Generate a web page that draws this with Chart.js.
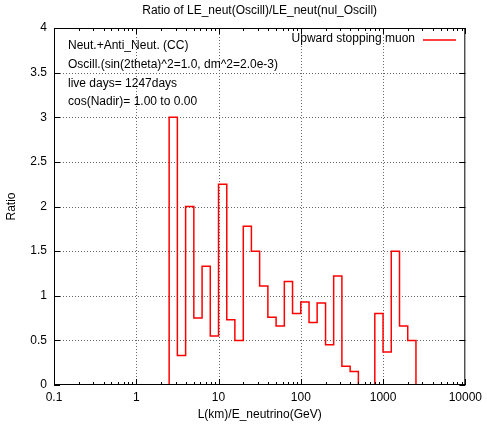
<!DOCTYPE html>
<html>
<head>
<meta charset="utf-8">
<title>Ratio of LE_neut(Oscill)/LE_neut(nul_Oscill)</title>
<script src="https://cdn.jsdelivr.net/npm/chart.js@4.4.0/dist/chart.umd.min.js"></script>
<style>
    html, body { margin: 0; padding: 0; background: #fff; }
    #wrap { width: 487px; height: 427px; }
</style>
</head>
<body>
<div id="wrap"><canvas id="ratioChart" width="487" height="427"></canvas></div>
<script>
// bin edges in L/E (km/GeV), 0.1 decade wide
const binEdges = [2.51, 3.16, 3.98, 5.01, 6.31, 7.94, 10, 12.6, 15.8, 20.0, 25.1,
    31.6, 39.8, 50.1, 63.1, 79.4, 100, 126, 158, 200, 251,
    316, 398, 501, 631, 794, 1000, 1259, 1585, 1995, 2512];

// ratio per bin
const ratioValues = [3.0, 0.33, 2.0, 0.75, 1.33, 0.55, 2.25, 0.73, 0.5, 1.78,
    1.5, 1.11, 0.76, 0.66, 1.16, 0.8, 0.93, 0.7, 0.92, 0.45,
    1.22, 0.21, 0.15, 0, 0, 0.8, 0.37, 1.5, 0.66, 0.5];

const xMajorTicks = [0.1, 1, 10, 100, 1000, 10000];
const yTicks = [0, 0.5, 1, 1.5, 2, 2.5, 3, 3.5, 4];

const titleText = 'Ratio of LE_neut(Oscill)/LE_neut(nul_Oscill)';
const xTitle = 'L(km)/E_neutrino(GeV)';
const yTitle = 'Ratio';
const seriesName = 'Upward stopping muon';
const infoLines = [
    'Neut.+Anti_Neut. (CC)',
    'Oscill.(sin(2theta)^2=1.0, dm^2=2.0e-3)',
    'live days= 1247days',
    'cos(Nadir)= 1.00 to 0.00'
];

const FAMILY = '"Liberation Sans", Arial, sans-serif';
const FONT = '12px ' + FAMILY;

// step outline: start at 0, one point per bin, drop back to 0 at the end
const stepPoints = [{ x: binEdges[0], y: 0 }];
ratioValues.forEach((v, i) => stepPoints.push({ x: binEdges[i], y: v }));
stepPoints.push({ x: binEdges[binEdges.length - 1], y: ratioValues[ratioValues.length - 1] });
stepPoints.push({ x: binEdges[binEdges.length - 1], y: 0 });

// gnuplot-like frame, dotted grid, inward ticks and text
const gnuplotLook = {
    id: 'gnuplotLook',
    beforeDatasetsDraw(chart) {
        const { ctx, chartArea: a, scales: { x, y } } = chart;
        ctx.save();
        ctx.strokeStyle = '#666';
        ctx.lineWidth = 1;
        ctx.setLineDash([1, 2]);
        xMajorTicks.slice(1, -1).forEach(v => {
            const px = Math.round(x.getPixelForValue(v)) + 0.5;
            ctx.beginPath(); ctx.moveTo(px, a.top); ctx.lineTo(px, a.bottom); ctx.stroke();
        });
        yTicks.slice(1, -1).forEach(v => {
            const py = Math.round(y.getPixelForValue(v)) + 0.5;
            ctx.beginPath(); ctx.moveTo(a.left, py); ctx.lineTo(a.right, py); ctx.stroke();
        });
        ctx.restore();
    },
    afterDatasetsDraw(chart) {
        const { ctx, chartArea: a, scales: { x, y } } = chart;
        ctx.save();
        ctx.strokeStyle = '#000';
        ctx.lineWidth = 1;
        ctx.setLineDash([]);
        ctx.strokeRect(a.left + 0.5, a.top + 0.5, a.right - a.left - 1, a.bottom - a.top - 1);

        // x ticks (major + log minor), bottom and top, pointing inward
        ctx.beginPath();
        for (let d = 0.1; d < 10000; d *= 10) {
            for (let k = 1; k <= 10; k++) {
                const px = Math.round(x.getPixelForValue(d * k)) + 0.5;
                const len = (k === 1 || k === 10) ? 6 : 3;
                ctx.moveTo(px, a.bottom); ctx.lineTo(px, a.bottom - len);
                ctx.moveTo(px, a.top); ctx.lineTo(px, a.top + len);
            }
        }
        yTicks.forEach(v => {
            const py = Math.round(y.getPixelForValue(v)) + 0.5;
            ctx.moveTo(a.left, py); ctx.lineTo(a.left + 6, py);
            ctx.moveTo(a.right, py); ctx.lineTo(a.right - 6, py);
        });
        ctx.stroke();

        // texts
        ctx.fillStyle = '#000';
        ctx.font = FONT;
        ctx.textBaseline = 'middle';
        ctx.textAlign = 'center';
        ctx.fillText(titleText, (a.left + a.right) / 2, 11);
        ctx.fillText(xTitle, (a.left + a.right) / 2, 415);
        ctx.save();
        ctx.translate(12, (a.top + a.bottom) / 2);
        ctx.rotate(-Math.PI / 2);
        ctx.fillText(yTitle, 0, 0);
        ctx.restore();

        ctx.textAlign = 'left';
        infoLines.forEach((t, i) => ctx.fillText(t, 68, 46 + i * 18.6));

        ctx.textAlign = 'right';
        ctx.fillText(seriesName, 415, 39);
        ctx.strokeStyle = '#ff0000';
        ctx.lineWidth = 1.5;
        ctx.beginPath(); ctx.moveTo(423, 40); ctx.lineTo(456, 40); ctx.stroke();
        ctx.restore();
    }
};

new Chart(document.getElementById('ratioChart').getContext('2d'), {
    type: 'line',
    data: {
        datasets: [{
            label: seriesName,
            data: stepPoints,
            stepped: 'before',
            borderColor: '#ff0000',
            borderWidth: 1.5,
            pointRadius: 0,
            fill: false,
            clip: { left: 2, top: 2, right: 2, bottom: 0 }
        }]
    },
    options: {
        responsive: false,
        animation: false,
        devicePixelRatio: 1,
        layout: { padding: { left: 0, right: 17, top: 28, bottom: 0 } },
        plugins: { legend: { display: false }, title: { display: false }, tooltip: { enabled: false } },
        scales: {
            x: {
                type: 'logarithmic',
                min: 0.1,
                max: 10000,
                grid: { display: false, drawTicks: false },
                border: { display: false },
                afterBuildTicks: scale => { scale.ticks = xMajorTicks.map(v => ({ value: v })); },
                afterFit: scale => { scale.height = 42; },
                ticks: {
                    autoSkip: false,
                    maxRotation: 0,
                    padding: 5,
                    color: '#000',
                    font: { family: FAMILY, size: 12 },
                    callback: v => String(v)
                }
            },
            y: {
                min: 0,
                max: 4,
                grid: { display: false, drawTicks: false },
                border: { display: false },
                afterBuildTicks: scale => { scale.ticks = yTicks.map(v => ({ value: v })); },
                afterFit: scale => { scale.width = 54; },
                ticks: {
                    padding: 7,
                    color: '#000',
                    font: { family: FAMILY, size: 12 },
                    callback: v => String(v)
                }
            }
        }
    },
    plugins: [gnuplotLook]
});
</script>
</body>
</html>
